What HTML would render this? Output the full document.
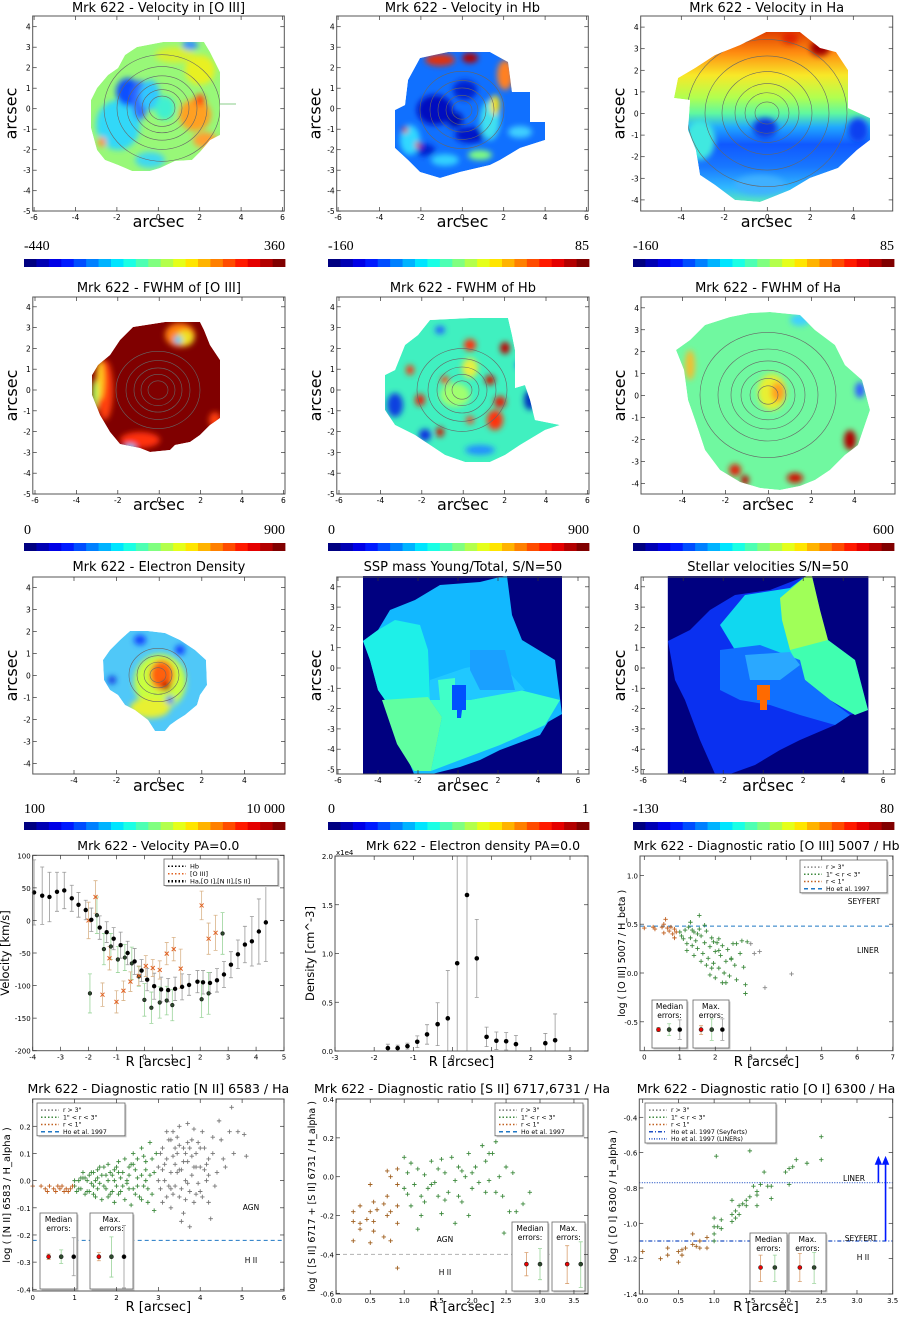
<!DOCTYPE html>
<html><head><meta charset="utf-8"><title>Mrk 622 maps</title>
<style>html,body{margin:0;padding:0;background:#fff}svg{display:block}</style></head>
<body>
<svg id="fig" xmlns="http://www.w3.org/2000/svg" width="900" height="1317" viewBox="0 0 900 1317" font-family="'DejaVu Sans','Liberation Sans',sans-serif">
<defs>
<filter id="blur" x="-50%" y="-50%" width="200%" height="200%"><feGaussianBlur stdDeviation="3"/></filter>
</defs>
<rect x="0" y="0" width="900" height="1317" fill="#fff"/>
</svg>
<script>
// ---------- data arrays ----------
const velHaR=[-3.95,-3.66,-3.4,-3.13,-2.87,-2.6,-2.36,-2.1,-1.9,-1.6,-1.35,-1.1,-0.85,-0.6,-0.35,-0.1,0.1,0.35,0.6,0.85,1.1,1.35,1.6,1.9,2.1,2.35,2.6,2.85,3.1,3.35,3.6,3.85,4.1,4.35];
const velHaV=[43,38,36,44,46,34,24,16,1,-11,-18,-28,-38,-50,-63,-77,-91,-101,-106,-107,-105,-102,-99,-94,-95,-96,-92,-83,-68,-52,-37,-32,-17,-3];
const velHaE=[50,44,38,30,28,20,19,15,18,18,16,17,20,18,20,17,17,20,19,18,18,20,16,17,18,16,18,20,20,22,28,38,50,60];
const velHbR=[-1.95,-1.7,-1.45,-1.2,-0.95,-0.7,-0.45,-0.2,0.0,0.25,0.55,0.8,1.0,2.05,2.3,2.8];
const velHbV=[-112,8,-44,-40,-60,-57,-66,-86,-122,-134,-126,-123,-130,-121,-112,-20];
const velHbE=[30,28,24,20,20,20,25,15,25,24,24,22,24,28,32,32];
const velO3R=[-2.0,-1.75,-1.5,-1.25,-1.0,-0.75,-0.5,-0.2,0.05,0.3,0.55,0.8,1.05,1.3,2.05,2.3,2.55];
const velO3V=[0,36,-114,-58,-125,-108,-94,-85,-70,-73,-76,-51,-44,-74,23,-28,-19];
const velO3E=[28,25,18,18,17,15,15,15,16,13,14,17,18,30,22,24,27];
const velXTicks=[-4,-3,-2,-1,0,1,2,3,4,5];
const velYTicks=[-200,-150,-100,-50,0,50,100];

const denR=[-1.65,-1.4,-1.15,-0.9,-0.65,-0.38,-0.12,0.12,0.37,0.62,0.87,1.12,1.37,1.62,2.37,2.62];
const denV=[0.03,0.03,0.05,0.095,0.17,0.275,0.335,0.9,1.6,0.95,0.145,0.105,0.1,0.07,0.08,0.11];
const denE=[0.04,0.03,0.03,0.06,0.1,0.22,0.49,1.5,2.5,0.4,0.1,0.09,0.09,0.09,0.1,0.27];
const denXTicks=[-3,-2,-1,0,1,2,3];
const denYTicks=[0,0.5,1.0,1.5,2.0];

const o3Mid=[[1.0,0.42],[1.05,0.38],[1.1,0.35],[1.15,0.44],[1.2,0.3],[1.25,0.47],[1.3,0.36],[1.35,0.28],[1.4,0.42],[1.45,0.33],[1.5,0.25],[1.55,0.45],[1.6,0.38],[1.65,0.2],[1.7,0.31],[1.75,0.43],[1.8,0.15],[1.85,0.27],[1.9,0.36],[1.95,0.1],[2.0,0.22],[2.05,0.31],[2.1,0.05],[2.15,0.18],[2.2,0.28],[2.25,0.0],[2.3,0.12],[2.35,0.24],[2.4,-0.03],[2.45,0.15],[2.5,0.3],[2.55,0.08],[2.6,-0.07],[2.7,0.2],[2.8,0.06],[2.85,-0.12],[2.85,-0.21],[2.9,0.32],[1.55,0.59],[1.3,0.52],[1.9,0.05],[2.0,-0.05],[2.3,-0.1],[1.6,0.12],[1.75,0.08],[1.2,0.23],[1.4,0.18],[2.1,0.35],[2.6,0.3],[1.85,-0.02],[2.2,-0.1],[1.5,0.4],[1.7,0.49],[2.45,0.14],[2.75,0.33],[2.1,0.23],[1.95,0.32],[1.35,0.44]];
const o3Out=[[3.0,0.3],[3.1,0.2],[3.25,0.22],[3.4,-0.15],[4.15,-0.01]];
const o3In=[[0.0,0.46],[0.25,0.47],[0.3,0.45],[0.5,0.47],[0.55,0.41],[0.6,0.55],[0.7,0.43],[0.75,0.47],[0.8,0.4],[0.85,0.45],[0.9,0.42],[0.65,0.46],[0.55,0.5],[0.85,0.36]];

const n2Out=[[3.0,0.05],[3.05,-0.03],[3.1,0.12],[3.15,0.0],[3.2,0.08],[3.2,-0.06],[3.25,0.15],[3.3,0.03],[3.3,-0.1],[3.35,0.18],[3.4,0.06],[3.4,-0.02],[3.45,0.1],[3.5,0.2],[3.5,-0.06],[3.55,0.04],[3.6,0.12],[3.6,-0.12],[3.65,0.0],[3.7,0.21],[3.7,0.07],[3.75,-0.04],[3.8,0.15],[3.8,0.02],[3.85,-0.08],[3.9,0.1],[3.95,-0.01],[4.0,0.05],[4.05,0.18],[4.05,-0.06],[4.1,0.12],[4.15,0.0],[4.2,0.08],[4.25,-0.14],[4.3,0.1],[4.4,0.03],[4.5,0.15],[4.6,0.05],[4.7,0.18],[4.75,0.27],[4.8,0.1],[4.9,0.18],[5.05,0.17],[5.1,0.09],[3.1,-0.08],[3.3,0.15],[3.5,0.13],[3.75,-0.17],[3.9,0.05],[4.0,-0.04],[3.45,0.03],[3.2,0.18],[3.65,0.1],[3.85,0.05],[4.2,0.02],[4.45,0.22],[3.55,-0.15],[3.95,0.14],[3.05,0.1],[3.35,-0.05],[3.0,0.0],[3.15,0.06],[3.25,-0.02],[3.4,0.12],[3.5,0.04],[3.6,0.07],[3.7,-0.01],[3.8,0.09],[3.9,-0.05],[4.0,0.12],[4.1,0.04],[4.2,-0.08],[4.3,0.16],[3.35,0.09],[3.55,-0.03],[3.75,0.12],[3.45,0.16],[3.65,-0.07],[3.85,0.19],[4.15,0.06],[4.35,-0.02],[4.55,0.08],[3.1,0.04],[3.3,-0.03],[3.7,0.14]];
const n2Mid=[[1.0,-0.02],[1.05,-0.04],[1.1,0.0],[1.15,-0.03],[1.2,0.01],[1.25,-0.05],[1.3,0.0],[1.35,0.02],[1.35,-0.04],[1.4,0.03],[1.45,-0.02],[1.5,0.0],[1.5,-0.06],[1.55,0.04],[1.6,-0.01],[1.65,0.02],[1.65,-0.07],[1.7,0.05],[1.75,-0.03],[1.8,0.0],[1.8,0.06],[1.85,-0.05],[1.9,0.02],[1.95,-0.08],[2.0,0.05],[2.0,-0.02],[2.05,0.07],[2.1,-0.04],[2.15,0.03],[2.2,0.08],[2.2,-0.07],[2.25,0.0],[2.3,0.05],[2.35,-0.09],[2.4,0.1],[2.4,-0.03],[2.45,0.04],[2.5,0.08],[2.55,-0.06],[2.6,0.02],[2.6,0.12],[2.65,-0.02],[2.7,0.07],[2.75,-0.08],[2.8,0.14],[2.8,0.02],[2.85,-0.05],[2.9,-0.11],[2.95,0.1],[1.2,0.03],[1.45,0.03],[1.7,-0.02],[1.95,0.04],[2.25,-0.01],[2.5,0.01],[2.7,0.0],[1.55,-0.03],[2.05,-0.05],[2.35,0.06],[1.85,0.03],[2.15,-0.02],[2.45,-0.05],[1.0,0.0],[1.1,-0.03],[1.3,-0.04],[1.6,0.05],[1.9,-0.04],[2.6,-0.07],[2.85,0.08],[2.3,-0.03],[1.25,0.01],[1.4,-0.01],[1.55,0.01],[1.75,0.02],[1.95,0.0],[2.1,0.01],[2.3,0.02],[2.5,-0.02],[2.7,0.04],[2.9,0.03],[1.15,0.01],[1.45,-0.05],[1.8,-0.06],[2.05,0.03],[2.4,0.06],[2.65,0.09],[2.75,-0.03]];
const n2In=[[0.2,-0.02],[0.3,-0.03],[0.4,-0.02],[0.5,-0.03],[0.55,-0.04],[0.65,-0.03],[0.7,-0.02],[0.8,-0.03],[0.85,-0.04],[0.9,-0.03],[0.95,-0.02],[0.0,-0.02],[0.35,-0.04],[0.6,-0.02],[0.75,-0.04]];

const s2In=[[0.25,-0.18],[0.25,-0.23],[0.25,-0.33],[0.35,-0.15],[0.35,-0.24],[0.35,-0.27],[0.5,-0.04],[0.5,-0.18],[0.5,-0.34],[0.55,-0.13],[0.55,-0.23],[0.55,-0.28],[0.7,-0.14],[0.7,-0.31],[0.75,-0.1],[0.75,-0.2],[0.75,0.03],[0.8,-0.18],[0.8,-0.33],[0.9,0.04],[0.9,-0.04],[0.9,-0.15],[0.9,-0.24],[0.9,-0.47],[0.45,-0.22],[0.6,-0.17],[0.8,0.0]];
const s2Mid=[[1.0,0.1],[1.0,-0.06],[1.05,-0.09],[1.1,0.07],[1.1,-0.15],[1.15,-0.04],[1.2,0.04],[1.25,-0.1],[1.25,-0.2],[1.3,0.01],[1.35,-0.06],[1.4,0.08],[1.45,-0.03],[1.5,0.04],[1.5,-0.1],[1.55,-0.19],[1.6,0.02],[1.65,-0.08],[1.7,0.1],[1.75,-0.02],[1.8,-0.1],[1.8,0.05],[1.85,-0.13],[1.9,0.0],[1.95,0.12],[2.0,-0.06],[2.05,0.05],[2.1,-0.03],[2.15,0.16],[2.2,0.08],[2.25,-0.02],[2.3,0.12],[2.35,0.18],[2.4,0.0],[2.45,-0.1],[2.5,0.05],[2.55,-0.18],[2.6,0.02],[2.65,-0.18],[2.75,-0.14],[2.85,-0.08],[1.2,-0.27],[1.75,-0.24],[1.95,-0.2],[2.47,-0.29],[1.4,-0.04],[1.6,-0.12],[2.0,0.02],[2.2,-0.08],[1.3,-0.13],[1.85,0.03],[2.35,-0.08],[1.05,0.02],[1.55,0.09],[2.25,0.12]];

const o1In=[[0.0,-1.16],[0.25,-1.2],[0.35,-1.14],[0.35,-1.18],[0.5,-1.16],[0.5,-1.22],[0.55,-1.15],[0.55,-1.18],[0.7,-1.06],[0.7,-1.12],[0.75,-1.13],[0.8,-1.1],[0.8,-1.14],[0.9,-1.08],[0.9,-1.14],[0.6,-1.14]];
const o1Mid=[[1.0,-0.97],[1.0,-1.06],[1.0,-1.1],[1.03,-0.62],[1.05,-1.02],[1.1,-0.98],[1.1,-1.03],[1.25,-0.87],[1.25,-0.95],[1.25,-0.99],[1.3,-0.93],[1.35,-0.9],[1.35,-0.95],[1.4,-0.89],[1.45,-0.87],[1.5,-0.59],[1.5,-0.85],[1.55,-0.79],[1.6,-0.82],[1.6,-0.9],[1.65,-0.78],[1.7,-0.71],[1.75,-0.79],[1.8,-0.86],[1.8,-0.79],[2.0,-0.71],[2.05,-0.78],[2.05,-0.69],[2.1,-0.68],[2.15,-0.64],[2.3,-0.66],[2.5,-0.51],[2.5,-0.64],[1.45,-0.9],[1.3,-0.97],[1.6,-0.84],[1.0,-1.02]];

const cbarLabels=[["-440","360"],["-160","85"],["-160","85"],["0","900"],["0","900"],["0","600"],["100","10 000"],["0","1"],["-130","80"]];

// ---------- helpers ----------
const NS='http://www.w3.org/2000/svg';
const svg=document.getElementById('fig');
function el(tag,attrs,parent){const e=document.createElementNS(NS,tag);for(const k in attrs)e.setAttribute(k,attrs[k]);(parent||svg).appendChild(e);return e;}
function grp(name,parent){const g=el('g',{},parent);


return g;}
function tx(s,x,y,size,anchor,name,parent,extra){const t=el('text',Object.assign({x:x,y:y,'font-size':size,'text-anchor':anchor||'start',fill:'#000'},extra||{}),parent);t.textContent=s;


return t;}
function lin(d0,d1,p0,p1){return v=>p0+(v-d0)*(p1-p0)/(d1-d0);}
function jet(t){const c=v=>Math.round(255*Math.max(0,Math.min(1,v)));return 'rgb('+c(1.5-Math.abs(4*t-3))+','+c(1.5-Math.abs(4*t-2))+','+c(1.5-Math.abs(4*t-1))+')';}

function frame(g,x0,y0,x1,y1){const r=el('rect',{x:x0,y:y0,width:x1-x0,height:y1-y0,fill:'none',stroke:'#555','stroke-width':1},g);

}
function xticks(g,vals,sx,y0,y1,fs,fmt){vals.forEach(v=>{const x=sx(v);
const a=el('line',{x1:x,x2:x,y1:y1,y2:y1-4,stroke:'#333','stroke-width':0.7},g);


const b=el('line',{x1:x,x2:x,y1:y0,y2:y0+4,stroke:'#333','stroke-width':0.7},g);


tx(fmt?fmt(v):String(v),x,y1+9,fs||7.5,'middle','x-tick-label',g);});}
function yticks(g,vals,sy,x0,x1,fs,fmt){vals.forEach(v=>{const y=sy(v);
const a=el('line',{x1:x0,x2:x0+4,y1:y,y2:y,stroke:'#333','stroke-width':0.7},g);


const b=el('line',{x1:x1,x2:x1-4,y1:y,y2:y,stroke:'#333','stroke-width':0.7},g);


tx(fmt?fmt(v):String(v),x0-2,y+3,fs||7.5,'end','y-tick-label',g);});}
function ylabel(g,s,x,y,fs){tx(s,x,y,fs,'middle','y-axis-title',g,{transform:'rotate(-90 '+x+' '+y+')'});}

// ---------- map panels ----------
let clipId=0;
function mapPanel(o){
 const g=grp(o.name);
 tx(o.title,(o.fx0+o.fx1)/2,o.ty,13,'middle','panel-title',g);
 const sx=lin(0,1,o.x0,o.x0+o.ux), sy=lin(0,1,o.y0,o.y0-o.uy);
 if(o.draw) o.draw(g);
 frame(g,o.fx0,o.fy0,o.fx1,o.fy1);
 xticks(g,o.xt,sx,o.fy0,o.fy1,7.5);
 yticks(g,o.yt,sy,o.fx0,o.fx1,7.5);
 tx('arcsec',(o.fx0+o.fx1)/2,o.xly,16,'middle','x-axis-title',g);
 ylabel(g,'arcsec',o.fx0-16,(o.fy0+o.fy1)/2,16);
 const cb=grp('colorbar',g);
 const n=21,w=(o.cb[1]-o.cb[0])/n;
 for(let i=0;i<n;i++){const r=el('rect',{x:o.cb[0]+i*w,y:o.cb[2],width:w+0.4,height:8,fill:jet(i/(n-1))},cb);
 
 }
 tx(o.cbl[0],o.cb[0],o.cb[2]-9,14,'start','colorbar-min-label',cb,{'font-family':"'Liberation Serif',serif"});
 tx(o.cbl[1],o.cb[1],o.cb[2]-9,14,'end','colorbar-max-label',cb,{'font-family':"'Liberation Serif',serif"});
}
function blobMap(g,poly,base,blobs,cx,cy,radii,grad){
 const id='c'+(clipId++);
 const cp=el('clipPath',{id:id},svg.querySelector('defs'));
 el('polygon',{points:poly.map(p=>p.join(',')).join(' ')},cp);
 const m=grp('intensity-map',g); m.setAttribute('clip-path','url(#'+id+')');
 const bp=el('polygon',{points:poly.map(p=>p.join(',')).join(' '),fill:grad||base},m);
 
 
 const bg=el('g',{filter:'url(#blur)'},m);
 blobs.forEach(b=>{const e=el('ellipse',{cx:b[0],cy:b[1],rx:b[2],ry:b[3],fill:b[4]},bg);
 
 });
 radii.forEach(r=>{const e=el('ellipse',{cx:cx,cy:cy,rx:r,ry:r*0.92,fill:'none',stroke:'#666','stroke-width':0.6},m);
 
 });
}
function polyMap(g,shapes){shapes.forEach(s=>{const p=el('polygon',{points:s[1],fill:s[0]},g);
 
 });}

const yt9=[-5,-4,-3,-2,-1,0,1,2,3,4], yt8=[-4,-3,-2,-1,0,1,2,3,4], xt6=[-6,-4,-2,0,2,4,6], xt4=[-4,-2,0,2,4];

const defs=svg.querySelector('defs');
const lg=el('linearGradient',{id:'haGrad',x1:0,y1:32,x2:0,y2:205,gradientUnits:'userSpaceOnUse'},defs);
[[0,'#e04000'],[0.12,'#ff8c10'],[0.25,'#f8e828'],[0.38,'#b0ff50'],[0.47,'#60f8a0'],[0.55,'#20a8ff'],[0.65,'#1058ff'],[0.78,'#1878ff'],[0.9,'#30b8ff'],[1,'#60f0b0']].forEach(s=>el('stop',{offset:s[0],'stop-color':s[1]},lg));

// Row 1
mapPanel({name:'panel-velocity-oiii',title:'Mrk 622 - Velocity in [O III]',ty:12,fx0:32.7,fx1:284.3,fy0:16,fy1:211,x0:158.3,ux:20.7,y0:108.7,uy:20.5,xt:xt6,yt:yt9,xly:227,cb:[24,285,259],cbl:cbarLabels[0],
 draw:g=>{blobMap(g,[[137,47],[163,42],[204,42],[210,52],[220,72],[220,135],[210,140],[200,152],[192,160],[175,161],[160,168],[150,171],[132,171],[118,165],[105,160],[97,150],[91,128],[91,100],[97,88],[108,75],[118,68],[125,55]],'#98f878',
 [[118,125,22,25,'#30d8f8'],[128,92,12,14,'#1050ff'],[140,100,8,20,'#3070ff'],[150,95,10,15,'#30c8ff'],[165,108,10,12,'#40f0d0'],[195,115,16,16,'#ffa020'],[200,100,5,6,'#ff5010'],[200,70,15,15,'#e8f020'],[175,55,20,8,'#d8f030'],[190,45,8,5,'#3090ff'],[205,140,12,8,'#ffa030'],[102,142,4,5,'#ff9030'],[150,160,15,8,'#40d8f0']],162,108,[13,20,27,35,45,58]);
 const s=el('line',{x1:220,x2:236,y1:104,y2:104,stroke:'#8c8',"stroke-width":1},g);
 
 }});
mapPanel({name:'panel-velocity-hb',title:'Mrk 622 - Velocity in Hb',ty:12,fx0:336.7,fx1:588.3,fy0:16,fy1:211,x0:462.3,ux:20.7,y0:108.7,uy:20.5,xt:xt6,yt:yt9,xly:227,cb:[328,589,259],cbl:cbarLabels[1],
 draw:g=>blobMap(g,[[420,58],[448,52],[490,52],[508,62],[512,92],[530,92],[530,122],[545,122],[545,140],[520,148],[500,160],[490,165],[460,172],[440,178],[420,172],[408,160],[395,148],[395,110],[405,105],[408,80]],'#1070ff',
 [[435,110,18,15,'#0010c0'],[465,90,12,10,'#0020d0'],[470,135,15,8,'#0018c8'],[425,150,10,6,'#0020d0'],[455,120,8,8,'#0010b0'],[410,140,10,15,'#30d8ff'],[490,120,10,20,'#40e0f0'],[445,160,14,6,'#30d0ff'],[520,132,12,6,'#40d0ff'],[440,60,15,6,'#e03010'],[470,58,8,5,'#b00000'],[505,75,8,15,'#ff8020'],[495,105,5,10,'#f0e020'],[405,130,3,3,'#e02010'],[418,145,3,3,'#e02010'],[480,155,12,5,'#80ff80']],462,110,[10,16,24,32,42])});
mapPanel({name:'panel-velocity-ha',title:'Mrk 622 - Velocity in Ha',ty:12,fx0:640.7,fx1:892.7,fy0:16,fy1:211,x0:767.3,ux:21.5,y0:113.5,uy:21.6,xt:xt4,yt:yt8,xly:227,cb:[633,894,259],cbl:cbarLabels[2],
 draw:g=>blobMap(g,[[766,32],[800,32],[820,48],[836,52],[848,70],[848,108],[870,118],[870,140],[857,150],[838,168],[810,178],[790,190],[760,202],[735,200],[715,185],[700,175],[696,150],[688,130],[690,100],[674,98],[678,78],[695,68],[715,55],[740,45]],'#60f8a0',
 [[820,48,10,8,'#a00000'],[790,38,8,6,'#e02000'],[858,130,10,12,'#1040f0'],[700,140,15,20,'#40e8e0'],[765,128,12,10,'#0838e0'],[760,185,25,10,'#40b0ff']],767,113,[12,22,32,45,62,80],'url(#haGrad)')});

// Row 2
mapPanel({name:'panel-fwhm-oiii',title:'Mrk 622 - FWHM of [O III]',ty:292,fx0:32.8,fx1:285,fy0:297,fy1:494,x0:159.2,ux:20.7,y0:390,uy:20.8,xt:xt6,yt:yt9,xly:510,cb:[24,285,543],cbl:cbarLabels[3],
 draw:g=>blobMap(g,[[133,327],[165,322],[200,322],[204,330],[210,345],[220,360],[220,418],[210,425],[200,435],[190,442],[175,445],[170,450],[150,452],[140,448],[120,444],[110,432],[100,415],[92,395],[92,375],[98,365],[110,355],[120,340]],'#800000',
 [[105,390,8,30,'#ff4010'],[100,380,4,20,'#ffd020'],[95,395,3,15,'#a0ff60'],[140,440,20,8,'#ff3010'],[130,448,6,4,'#40c0ff'],[180,335,15,12,'#ff8010'],[185,338,9,8,'#f0e020'],[178,340,4,4,'#30c8ff'],[215,420,6,8,'#ff4010']],158,390,[10,17,24,32,42])});
mapPanel({name:'panel-fwhm-hb',title:'Mrk 622 - FWHM of Hb',ty:292,fx0:336.8,fx1:589,fy0:297,fy1:494,x0:463.2,ux:20.7,y0:390,uy:20.8,xt:xt6,yt:yt9,xly:510,cb:[328,589,543],cbl:cbarLabels[4],
 draw:g=>blobMap(g,[[430,320],[470,318],[508,318],[512,335],[515,350],[515,388],[525,385],[530,400],[535,420],[560,425],[545,430],[520,445],[505,455],[490,462],[465,462],[445,455],[430,445],[415,435],[395,425],[385,410],[385,375],[395,370],[405,345],[418,335]],'#40f0c0',
 [[455,395,15,12,'#a0ff70'],[470,368,8,10,'#e8f040'],[420,400,5,6,'#e82010'],[410,370,4,5,'#ff3010'],[470,345,6,6,'#ff3010'],[490,380,5,5,'#d01000'],[500,402,6,6,'#e02010'],[505,348,5,6,'#c00000'],[495,420,8,10,'#ff3010'],[470,420,4,4,'#ff4020'],[440,432,4,5,'#d01000'],[445,380,4,4,'#ff4010'],[395,405,8,12,'#1040e0'],[425,435,6,6,'#1030e0'],[530,400,6,10,'#0030c0'],[520,365,4,4,'#0040ff'],[440,330,5,4,'#2060ff'],[480,450,15,5,'#2090ff']],462,390,[10,17,25,34,45])});
mapPanel({name:'panel-fwhm-ha',title:'Mrk 622 - FWHM of Ha',ty:292,fx0:641,fx1:895,fy0:297,fy1:494,x0:768.4,ux:21.5,y0:395.6,uy:21.95,xt:xt4,yt:yt8,xly:510,cb:[633,894,543],cbl:cbarLabels[5],
 draw:g=>blobMap(g,[[770,312],[800,315],[815,330],[835,345],[845,365],[862,380],[870,410],[858,445],[845,455],[830,470],[815,480],[800,486],[780,490],[760,488],[740,482],[720,470],[705,450],[695,420],[688,400],[684,370],[676,350],[690,340],[705,325],[730,317],[750,313]],'#70f8a0',
 [[772,392,14,18,'#e8f030'],[778,392,7,10,'#ffa020'],[735,470,6,6,'#e02010'],[745,480,4,5,'#c00000'],[795,478,8,5,'#d01000'],[850,440,6,10,'#b00000'],[860,390,5,8,'#3060ff'],[690,365,5,15,'#f0c030'],[800,320,10,6,'#40d0ff']],768,395,[10,18,27,37,50,68])});

// Row 3
mapPanel({name:'panel-electron-density-map',title:'Mrk 622 -  Electron Density',ty:571,fx0:32.8,fx1:285,fy0:577,fy1:774,x0:159.2,ux:21.3,y0:675.6,uy:22,xt:xt4,yt:yt8,xly:791,cb:[24,285,822],cbl:cbarLabels[6],
 draw:g=>blobMap(g,[[130,631],[148,631],[165,633],[180,640],[195,650],[206,660],[207,685],[200,695],[197,705],[185,715],[177,720],[170,725],[165,731],[155,731],[148,720],[135,710],[125,705],[118,695],[110,690],[104,680],[103,660],[110,650],[120,640]],'#50c8f8',
 [[160,682,26,28,'#c8ff40'],[150,708,20,10,'#e8f030'],[162,675,12,15,'#ff6010'],[166,686,5,5,'#c00000'],[140,640,6,5,'#1040ff'],[180,650,5,5,'#1040ff'],[112,680,4,4,'#1030e0'],[170,700,4,4,'#2050ff']],158,675,[8,14,21,29])});
mapPanel({name:'panel-ssp-mass',title:'SSP mass Young/Total, S/N=50',ty:571,fx0:336.8,fx1:589,fy0:577,fy1:774,x0:458,ux:20,y0:668,uy:20.3,xt:xt6,yt:yt9,xly:791,cb:[328,589,822],cbl:cbarLabels[7],
 draw:g=>{const r=el('rect',{x:363,y:576,width:199,height:198,fill:'#000080'},g);
 
 
 polyMap(g,[['#12b8ff','504,576 507,576 512,615 522,640 555,660 562,714 548,722 540,735 500,750 480,760 460,767 432,774 414,774 400,740 385,700 378,690 370,660 363,641 378,630 390,610 415,600 440,585 480,582'],
 ['#1ef0e8','363,641 378,630 395,620 420,625 428,650 430,700 400,705 385,700 378,690 370,660'],
 ['#60ffa0','382,700 428,697 442,717 431,771 414,771 397,744'],
 ['#3cffc8','430,700 470,700 520,690 560,700 545,725 500,745 460,760 431,771 442,717'],
 ['#20c8ff','430,680 465,668 500,662 525,690 470,700 430,700'],
 ['#1aa0ff','470,650 505,650 515,690 480,690 470,670'],
 ['#40ffc8','438,680 455,678 455,700 440,700'],
 ['#0050ff','452,685 466,685 466,710 462,710 461,718 457,718 457,710 452,710']]);}});
mapPanel({name:'panel-stellar-velocity',title:'Stellar velocities S/N=50',ty:571,fx0:641,fx1:895,fy0:577,fy1:774,x0:763.2,ux:20,y0:668,uy:20.3,xt:xt6,yt:yt9,xly:791,cb:[633,894,822],cbl:cbarLabels[8],
 draw:g=>{const r=el('rect',{x:667.8,y:576,width:200.6,height:198,fill:'#000080'},g);
 
 
 polyMap(g,[['#0a30f0','806,576 812,576 820,610 828,640 855,660 868,710 850,715 835,725 800,740 780,750 755,765 730,774 715,774 700,740 685,700 675,680 668,641 690,630 710,610 735,595 770,590'],
 ['#10d8f0','745,595 790,588 806,576 812,576 812,640 790,660 760,665 735,650 720,625'],
 ['#a0ff58','780,598 806,576 812,576 820,610 828,640 820,650 790,650 782,620'],
 ['#40ffb0','790,650 828,640 855,660 868,710 855,715 830,700 805,680'],
 ['#1070ff','720,650 760,645 800,660 805,680 830,700 850,715 835,725 800,715 770,705 740,700 720,690'],
 ['#2aa8ff','745,655 790,652 800,665 780,680 750,680'],
 ['#ff6a00','757,685 770,685 770,700 767,700 767,710 760,710 760,700 757,700']]);}});

// ---------- common line-plot helper ----------
function plotAxes(o){
 const g=grp(o.name);
 const sx=lin(o.xd[0],o.xd[1],o.px[0],o.px[1]), sy=lin(o.yd[0],o.yd[1],o.py[0],o.py[1]);
 tx(o.title,o.tx||(o.fx0+o.fx1)/2,o.ty,12.5,'middle','plot-title',g);
 return {g,sx,sy};
}
function finishAxes(g,o,sx,sy){
 frame(g,o.fx0,o.fy0,o.fx1,o.fy1);
 xticks(g,o.xt,sx,o.fy0,o.fy1,7,o.xf);
 yticks(g,o.yt,sy,o.fx0,o.fx1,7,o.yf);
 tx(o.xl,(o.fx0+o.fx1)/2,o.xly,13,'middle','x-axis-title',g);
 ylabel(g,o.yl,o.ylx,(o.fy0+o.fy1)/2,o.ylfs||11);
}
function errbar(g,x,ylo,yhi,color){
 const l=el('path',{d:'M'+x+' '+ylo+'V'+yhi+'M'+(x-2)+' '+ylo+'h4M'+(x-2)+' '+yhi+'h4',stroke:color,'stroke-width':0.8,fill:'none'},g);
 
 
}
function dot(g,x,y,r,fill,stroke,name){const c=el('circle',{cx:x,cy:y,r:r,fill:fill,stroke:stroke||'none','stroke-width':0.6},g);
 
 }
function cross(g,x,y,color,name){const p=el('path',{d:'M'+(x-2.2)+' '+y+'h4.4M'+x+' '+(y-2.2)+'v4.4',stroke:color,'stroke-width':0.9},g);
 
 }
function xmark(g,x,y,color,name){const p=el('path',{d:'M'+(x-2)+' '+(y-2)+'l4 4M'+(x-2)+' '+(y+2)+'l4 -4',stroke:color,'stroke-width':1},g);
 
 }
function box(g,x,y,w,h,name){
 const s=el('rect',{x:x+1.5,y:y+1.5,width:w,height:h,fill:'#c8c8c8'},g);
 
 
 const b=el('rect',{x:x,y:y,width:w,height:h,fill:'#fff',stroke:'#666','stroke-width':0.8},g);
 
 }
function legend(g,x,y,w,entries,fs){
 box(g,x,y,w,entries.length*(fs+1)+4,'legend');
 entries.forEach((e,i)=>{const yy=y+4+i*(fs+1)+fs/2;
 const m=el('line',{x1:x+4,x2:x+22,y1:yy,y2:yy,stroke:e[1],'stroke-width':e[2]||1.5,'stroke-dasharray':e[3]||'1.5,2'},g);
 
 
 tx(e[0],x+26,yy+fs/2-1,fs,'start','legend-entry',g);});}
function errInset(g,x,y,w,h,lbl,sx,sy,pts){
 box(g,x,y,w,h,'error-inset');
 tx(lbl,x+w/2,y+9,7.5,'middle','error-inset-label',g);
 tx('errors:',x+w/2,y+18,7.5,'middle','error-inset-label',g);
 pts.forEach(p=>{errbar(g,sx(p[0]),sy(p[2]),sy(p[3]),p[4]);dot(g,sx(p[0]),sy(p[1]),2,p[5],'#222','median-error-point');});}

// ---------- Row 4: velocity profile ----------
(function(){
 const o={name:'plot-velocity-profile',title:'Mrk 622 - Velocity PA=0.0',ty:850,fx0:32.7,fx1:284,fy0:855.3,fy1:1050.7,xd:[-4,5],yd:[100,-200],px:[32.7,284],py:[855.3,1050.7],xt:velXTicks,yt:velYTicks,xl:'R [arcsec]',xly:1066,yl:'Velocity [km/s]',ylx:9,ylfs:11.5};
 const {g,sx,sy}=plotAxes(o);
 velHaR.forEach((r,i)=>errbar(g,sx(r),sy(velHaV[i]-velHaE[i]),sy(velHaV[i]+velHaE[i]),'#999'));
 velHbR.forEach((r,i)=>errbar(g,sx(r),sy(velHbV[i]-velHbE[i]),sy(velHbV[i]+velHbE[i]),'#9ad49a'));
 velO3R.forEach((r,i)=>errbar(g,sx(r),sy(velO3V[i]-velO3E[i]),sy(velO3V[i]+velO3E[i]),'#d9b48a'));
 velHbR.forEach((r,i)=>dot(g,sx(r),sy(velHbV[i]),1.8,'#2d4a2d','#111','hb-point'));
 velO3R.forEach((r,i)=>xmark(g,sx(r),sy(velO3V[i]),'#e06020','oiii-point'));
 velHaR.forEach((r,i)=>dot(g,sx(r),sy(velHaV[i]),2.2,'#000','none','ha-point'));
 legend(g,164,859,114,[['Hb','#000'],['[O III]','#e06020'],['Ha,[O I],[N II],[S II]','#000',2.5]],6.5);
 finishAxes(g,o,sx,sy);
})();

// ---------- Row 4: electron density profile ----------
(function(){
 const o={name:'plot-electron-density',title:'Mrk 622 - Electron density PA=0.0',tx:473,ty:850,fx0:335,fx1:588,fy0:856,fy1:1051,xd:[-3,3],yd:[2.0,0],px:[335,570],py:[856,1051],xt:denXTicks,yt:denYTicks,xl:'R [arcsec]',xly:1066,yl:'Density [cm^-3]',ylx:314,ylfs:11.5,yf:v=>v.toFixed(1)};
 const {g,sx,sy}=plotAxes(o);
 const cg=grp('error-bars',g);
 denR.forEach((r,i)=>errbar(cg,sx(r),Math.min(1051,sy(denV[i]-denE[i])),Math.max(856,sy(denV[i]+denE[i])),'#999'));
 denR.forEach((r,i)=>dot(g,sx(r),sy(denV[i]),2.3,'#000','none','density-point'));
 tx('x1e4',336,855,7,'start','y-axis-multiplier',g);
 finishAxes(g,o,sx,sy);
})();

// ---------- Row 4: OIII/Hb ----------
(function(){
 const o={name:'plot-oiii-hb-ratio',title:'Mrk 622 - Diagnostic ratio [O III] 5007 / Hb',ty:850,fx0:640,fx1:893,fy0:856,fy1:1050.7,xd:[0,7],yd:[0,0.5],px:[644.3,892.7],py:[973,924.2],xt:[0,1,2,3,4,5,6,7],yt:[-0.5,0.0,0.5,1.0],xl:'R [arcsec]',xly:1066,yl:'log ( [O III] 5007 / H_beta )',ylx:625,ylfs:9.5,yf:v=>v.toFixed(1)};
 const {g,sx,sy}=plotAxes(o);
 const dl=el('line',{x1:640,x2:893,y1:sy(0.48),y2:sy(0.48),stroke:'#1f77c4','stroke-width':1,'stroke-dasharray':'4,3'},g);
 
 
 o3Out.forEach(p=>cross(g,sx(p[0]),sy(p[1]),'#888','outer-point'));
 o3Mid.forEach(p=>cross(g,sx(p[0]),sy(p[1]),'#3e8a3e','mid-point'));
 o3In.forEach(p=>cross(g,sx(p[0]),sy(p[1]),'#c06020','inner-point'));
 tx('SEYFERT',864,904,7.5,'middle','region-label-seyfert',g);
 tx('LINER',868,953,7.5,'middle','region-label-liner',g);
 legend(g,800,860,87,[['r > 3"','#888'],['1" < r < 3"','#3e8a3e'],['r < 1"','#c06020'],['Ho et al. 1997','#1f77c4',1.5,'4,3']],6.2);
 errInset(g,652,1000,35,48,'Median',sx,sy,[[0.4,-0.58,-0.6,-0.56,'#d9a070','#e00'],[0.7,-0.58,-0.64,-0.52,'#9ad49a','#2d4a2d'],[1.0,-0.58,-0.68,-0.48,'#999','#000']]);
 errInset(g,693,1000,36,48,'Max.',sx,sy,[[1.6,-0.58,-0.63,-0.54,'#d9a070','#e00'],[1.9,-0.58,-0.69,-0.47,'#9ad49a','#2d4a2d'],[2.2,-0.58,-0.69,-0.47,'#999','#000']]);
 finishAxes(g,o,sx,sy);
})();

// ---------- Row 5: NII/Ha ----------
(function(){
 const o={name:'plot-nii-ha-ratio',title:'Mrk 622 - Diagnostic ratio [N II] 6583 / Ha',ty:1093,fx0:32.7,fx1:284,fy0:1099,fy1:1291,xd:[0,6],yd:[0.2,-0.4],px:[32.7,284],py:[1126.3,1289.3],xt:[0,1,2,3,4,5,6],yt:[-0.4,-0.3,-0.2,-0.1,0.0,0.1,0.2],xl:'R [arcsec]',xly:1311,yl:'log ( [N II] 6583 / H_alpha )',ylx:10,ylfs:10,yf:v=>v.toFixed(1)};
 const {g,sx,sy}=plotAxes(o);
 const dl=el('line',{x1:32.7,x2:284,y1:sy(-0.22),y2:sy(-0.22),stroke:'#1f77c4','stroke-width':1,'stroke-dasharray':'4,3'},g);
 
 
 n2Out.forEach(p=>cross(g,sx(p[0]),sy(p[1]),'#777','outer-point'));
 n2Mid.forEach(p=>cross(g,sx(p[0]),sy(p[1]),'#3e8a3e','mid-point'));
 n2In.forEach(p=>cross(g,sx(p[0]),sy(p[1]),'#c06020','inner-point'));
 tx('AGN',251,1210,7.5,'middle','region-label-agn',g);
 tx('H II',251,1263,7.5,'middle','region-label-hii',g);
 legend(g,37,1103,88,[['r > 3"','#777'],['1" < r < 3"','#3e8a3e'],['r < 1"','#c06020'],['Ho et al. 1997','#1f77c4',1.5,'4,3']],6.2);
 errInset(g,40,1213,37,76,'Median',sx,sy,[[0.38,-0.28,-0.29,-0.27,'#d9a070','#e00'],[0.68,-0.28,-0.305,-0.255,'#9ad49a','#2d4a2d'],[0.98,-0.28,-0.35,-0.21,'#999','#000']]);
 errInset(g,90,1213,43,76,'Max.',sx,sy,[[1.58,-0.28,-0.295,-0.265,'#d9a070','#e00'],[1.88,-0.28,-0.355,-0.207,'#9ad49a','#2d4a2d'],[2.18,-0.28,-0.395,-0.165,'#999','#000']]);
 finishAxes(g,o,sx,sy);
})();

// ---------- Row 5: SII/Ha ----------
(function(){
 const o={name:'plot-sii-ha-ratio',title:'Mrk 622 - Diagnostic ratio [S II] 6717,6731 / Ha',ty:1093,fx0:336,fx1:588,fy0:1099,fy1:1294,xd:[0,3],yd:[0.4,-0.6],px:[336.3,540],py:[1099,1293.3],xt:[0,0.5,1,1.5,2,2.5,3,3.5],yt:[-0.6,-0.4,-0.2,0.0,0.2,0.4],xl:'R [arcsec]',xly:1311,yl:'log ( [S II] 6717 + [S II] 6731 / H_alpha )',ylx:315,ylfs:9.5,xf:v=>v.toFixed(1),yf:v=>v.toFixed(1)};
 const {g,sx,sy}=plotAxes(o);
 const dl=el('line',{x1:336,x2:588,y1:sy(-0.4),y2:sy(-0.4),stroke:'#bbb','stroke-width':1.2,'stroke-dasharray':'4,3'},g);
 
 
 s2Mid.forEach(p=>cross(g,sx(p[0]),sy(p[1]),'#3e8a3e','mid-point'));
 s2In.forEach(p=>cross(g,sx(p[0]),sy(p[1]),'#a06020','inner-point'));
 tx('AGN',445,1242,7.5,'middle','region-label-agn',g);
 tx('H II',445,1275,7.5,'middle','region-label-hii',g);
 legend(g,495,1103,88,[['r > 3"','#777'],['1" < r < 3"','#3e8a3e'],['r < 1"','#c06020'],['Ho et al. 1997','#1f77c4',1.5,'4,3']],6.2);
 errInset(g,512,1222,36,69,'Median',sx,sy,[[2.8,-0.45,-0.51,-0.39,'#d9a070','#e00'],[3.0,-0.45,-0.53,-0.37,'#9ad49a','#2d4a2d']]);
 errInset(g,552,1222,33,69,'Max.',sx,sy,[[3.4,-0.45,-0.55,-0.355,'#d9a070','#e00'],[3.6,-0.45,-0.57,-0.335,'#9ad49a','#2d4a2d']]);
 finishAxes(g,o,sx,sy);
})();

// ---------- Row 5: OI/Ha ----------
(function(){
 const o={name:'plot-oi-ha-ratio',title:'Mrk 622 - Diagnostic ratio [O I] 6300 / Ha',ty:1093,fx0:639.3,fx1:892.7,fy0:1099,fy1:1294,xd:[0,3.5],yd:[-0.4,-1.4],px:[642.7,892.7],py:[1117.3,1294],xt:[0,0.5,1,1.5,2,2.5,3,3.5],yt:[-1.4,-1.2,-1.0,-0.8,-0.6,-0.4],xl:'R [arcsec]',xly:1311,yl:'log ( [O I] 6300 / H_alpha )',ylx:616,ylfs:10,xf:v=>v.toFixed(1),yf:v=>v.toFixed(1)};
 const {g,sx,sy}=plotAxes(o);
 const l1=el('line',{x1:639.3,x2:892.7,y1:sy(-0.77),y2:sy(-0.77),stroke:'#1f50c4','stroke-width':1.2,'stroke-dasharray':'1,1.5'},g);
 
 
 const l2=el('line',{x1:639.3,x2:892.7,y1:sy(-1.1),y2:sy(-1.1),stroke:'#1f50c4','stroke-width':1.2,'stroke-dasharray':'4,2,1,2'},g);
 
 
 o1Mid.forEach(p=>cross(g,sx(p[0]),sy(p[1]),'#3e8a3e','mid-point'));
 o1In.forEach(p=>cross(g,sx(p[0]),sy(p[1]),'#a06020','inner-point'));
 [[3.3,-0.77],[3.4,-1.1]].forEach(a=>{const x=sx(a[0]);
 const ar=el('path',{d:'M'+x+' '+sy(a[1])+'V'+(sy(-0.63)+5)+'M'+(x-2.5)+' '+(sy(-0.63)+6)+'L'+x+' '+sy(-0.63)+'L'+(x+2.5)+' '+(sy(-0.63)+6)+'Z',stroke:'#0018ff','stroke-width':1.6,fill:'#0018ff'},g);
 
 });
 tx('LINER',854,1181,7.5,'middle','region-label-liner',g);
 tx('SEYFERT',861,1241,7.5,'middle','region-label-seyfert',g);
 tx('H II',863,1260,7.5,'middle','region-label-hii',g);
 legend(g,645,1103,131,[['r > 3"','#777'],['1" < r < 3"','#3e8a3e'],['r < 1"','#c06020'],['Ho et al. 1997 (Seyferts)','#1f50c4',1.5,'4,2,1,2'],['Ho et al. 1997 (LINERs)','#1f50c4',1.5,'1,1.5']],6.2);
 errInset(g,750,1233,37,58,'Median',sx,sy,[[1.65,-1.25,-1.33,-1.18,'#d9a070','#e00'],[1.85,-1.25,-1.33,-1.18,'#9ad49a','#2d4a2d']]);
 errInset(g,789,1233,37,58,'Max.',sx,sy,[[2.2,-1.25,-1.33,-1.17,'#d9a070','#e00'],[2.4,-1.25,-1.34,-1.165,'#9ad49a','#2d4a2d']]);
 finishAxes(g,o,sx,sy);
})();
</script>
</body></html>
